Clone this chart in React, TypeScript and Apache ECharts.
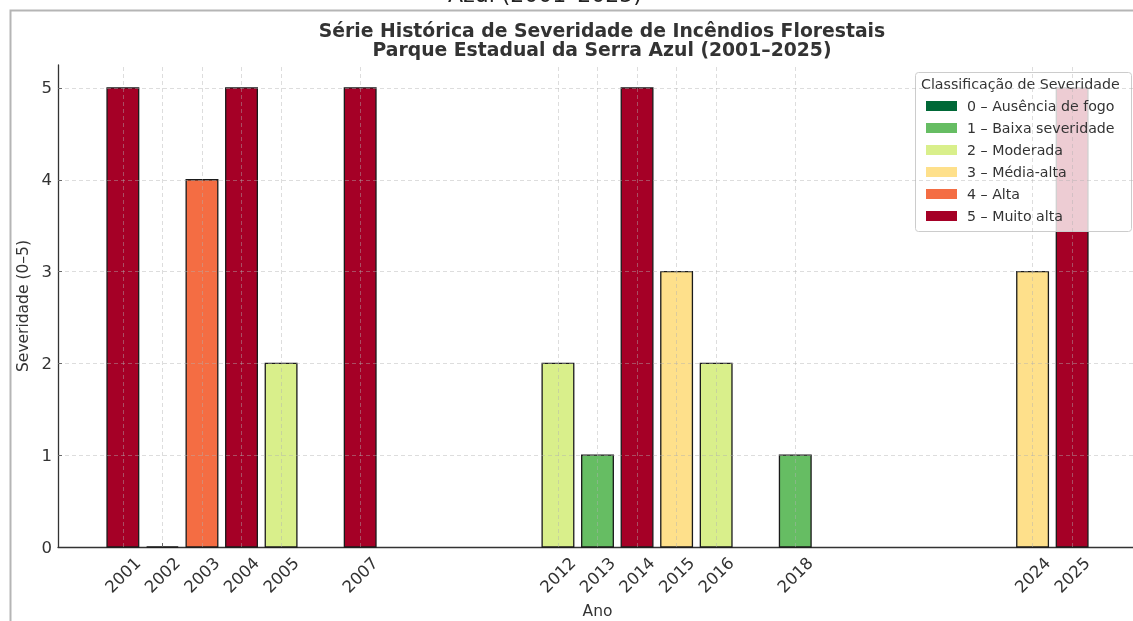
import React, { useEffect, useRef } from "react";
import * as echarts from "echarts";

const years = [2001, 2002, 2003, 2004, 2005, 2007, 2012, 2013, 2014, 2015, 2016, 2018, 2024, 2025];
const severity = [5, 0, 4, 5, 2, 5, 2, 1, 5, 3, 2, 1, 3, 5];
const classLabels = [
  "0 – Ausência de fogo",
  "1 – Baixa severidade",
  "2 – Moderada",
  "3 – Média-alta",
  "4 – Alta",
  "5 – Muito alta",
];
const classColors = ["#006837", "#66bd63", "#d9ef8b", "#fee08b", "#f46d43", "#a50026"];
const yTicks = [0, 1, 2, 3, 4, 5];

const FONT = "DejaVu Sans";
const TXT = "#333";

export default function App() {
  const ref = useRef<HTMLDivElement>(null);
  useEffect(() => {
    if (!ref.current) return;
    const chart = echarts.init(ref.current, null, { renderer: "svg" });
    const barSeries = classLabels.map((name, k) => ({
      type: "custom",
      name,
      z: 2,
      itemStyle: { color: classColors[k] },
      encode: { x: 0, y: 1 },
      data: years
        .map((y, i) => [y, severity[i]])
        .filter((d) => d[1] === k),
      renderItem: (params: any, api: any) => {
        const x = api.value(0);
        const v = api.value(1);
        const p0 = api.coord([x - 0.4, v]);
        const p1 = api.coord([x + 0.4, 0]);
        return {
          type: "rect",
          shape: { x: p0[0], y: p0[1], width: p1[0] - p0[0], height: p1[1] - p0[1] },
          style: { fill: api.visual("color"), stroke: "#1a1a1a", lineWidth: 1.3 },
        };
      },
    }));
    const gridSeries = {
      type: "custom",
      name: "grid",
      z: 3,
      silent: true,
      data: [],
      renderItem: () => null,
      markLine: {
        silent: true,
        symbol: ["none", "none"],
        label: { show: false },
        animation: false,
        lineStyle: { color: "rgba(176,176,176,0.55)", width: 0.8, type: [4, 3] },
        data: [
          ...years.map((y) => ({ xAxis: y })),
          ...yTicks.slice(1).map((v) => ({ yAxis: v })),
        ],
      },
    };
    chart.setOption({
      animation: false,
      color: classColors,
      textStyle: { fontFamily: FONT },
      title: {
        text: "Série Histórica de Severidade de Incêndios Florestais\nParque Estadual da Serra Azul (2001–2025)",
        left: 597,
        top: 16,
        textAlign: "center",
        textStyle: { fontSize: 18.8, fontWeight: "bold", lineHeight: 19, color: TXT, fontFamily: FONT },
      },
      grid: { left: 58, top: 65, width: 1079, height: 482, outerBoundsMode: "none", containLabel: false },
      xAxis: {
        type: "value",
        min: 1999.36,
        max: 2026.64,
        name: "Ano",
        nameLocation: "middle",
        nameGap: 48,
        nameTextStyle: { fontSize: 15.5, color: TXT, fontFamily: FONT, verticalAlign: "top" },
        axisLine: { show: true, onZero: false, lineStyle: { color: "#333", width: 1.3 } },
        axisTick: { show: true, inside: true, length: 4, customValues: years, lineStyle: { color: "#333" } },
        axisLabel: {
          customValues: years,
          formatter: (v: number) => String(v),
          rotate: 45,
          align: "center",
          verticalAlign: "middle",
          margin: 28,
          fontSize: 16.5,
          color: TXT,
          fontFamily: FONT,
        },
        splitLine: { show: false },
      },
      yAxis: {
        type: "value",
        min: 0,
        max: 5.25,
        name: "Severidade (0–5)",
        nameLocation: "middle",
        nameGap: 17,
        nameTextStyle: { fontSize: 15.5, color: TXT, fontFamily: FONT },
        axisLine: { show: true, lineStyle: { color: "#333", width: 1.3 } },
        axisTick: { show: true, inside: true, length: 4, customValues: yTicks, lineStyle: { color: "#333" } },
        axisLabel: { customValues: yTicks, fontSize: 16.5, color: TXT, fontFamily: FONT, margin: 6 },
        splitLine: { show: false },
      },
      legend: {
        orient: "vertical",
        left: 926,
        top: 98,
        padding: 0,
        itemGap: 6,
        itemWidth: 31,
        itemHeight: 10,
        icon: "rect",
        data: classLabels,
        itemStyle: { borderWidth: 0 },
        textStyle: { fontSize: 14.2, lineHeight: 16, color: TXT, fontFamily: FONT, padding: [0, 0, 0, 5] },
        selectedMode: false,
      },
      graphic: [
        {
          type: "rect",
          z: 100,
          shape: { x: 10.5, y: 10.5, width: 1300, height: 800 },
          style: { fill: "none", stroke: "#b5b5b5", lineWidth: 2 },
          silent: true,
        },
        {
          type: "text",
          z: 100,
          x: 545,
          y: -6,
          style: { text: "Azul (2001–2025)", fontSize: 22, fontFamily: FONT, fill: "#222", align: "center", verticalAlign: "middle" },
          silent: true,
        },
        {
          type: "rect",
          z: 3,
          shape: { x: 915.5, y: 72.5, width: 216, height: 159, r: 3 },
          style: { fill: "rgba(255,255,255,0.8)", stroke: "#cccccc", lineWidth: 1 },
          silent: true,
        },
        {
          type: "text",
          z: 5,
          x: 921,
          y: 84,
          style: { text: "Classificação de Severidade", fontSize: 14.2, fontFamily: FONT, fill: TXT, align: "left", verticalAlign: "middle" },
          silent: true,
        },
      ],
      series: [...barSeries, gridSeries],
    });
    return () => chart.dispose();
  }, []);
  return <div ref={ref} style={{ position: "fixed", left: 0, top: 0, width: 1133, height: 621 }} />;
}
